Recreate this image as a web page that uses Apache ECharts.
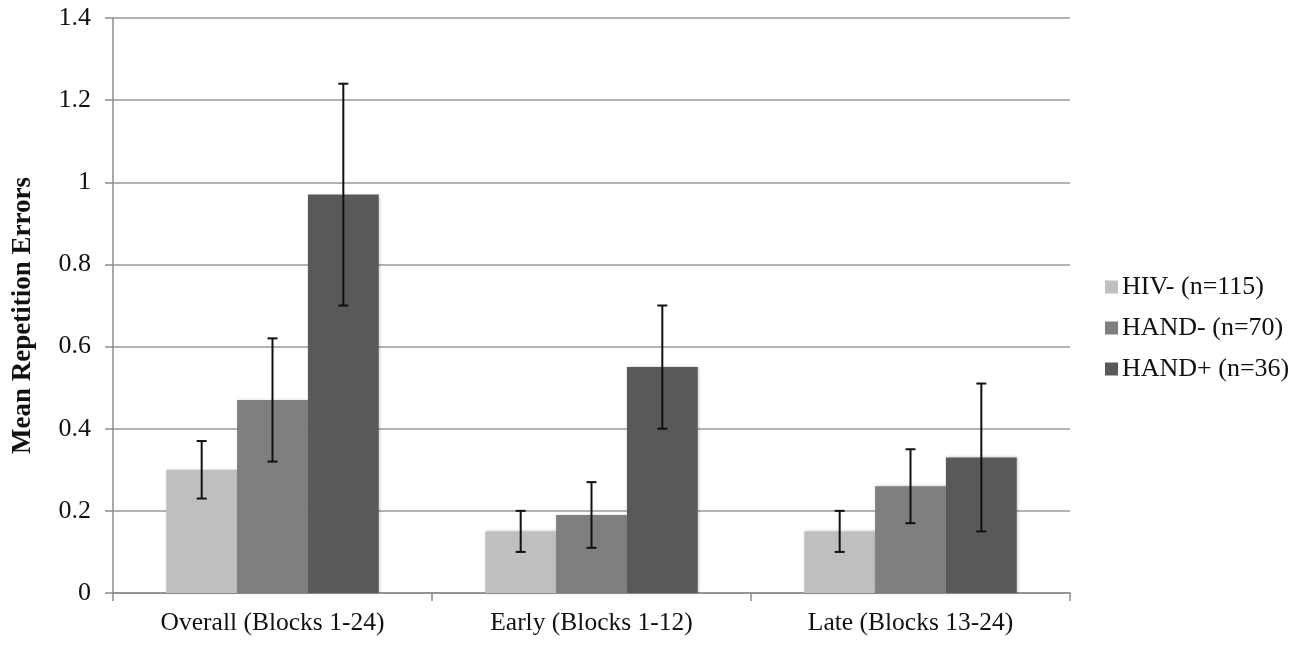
<!DOCTYPE html>
<html>
<head>
<meta charset="utf-8">
<script src="https://cdn.jsdelivr.net/npm/echarts@6/dist/echarts.min.js"></script>
<style>
html, body { margin: 0; padding: 0; background: #fff; }
#chart { width: 1309px; height: 645px; }
</style>
</head>
<body>
<div id="chart"></div>
<script>
// data
const categories = ['Overall (Blocks 1-24)', 'Early (Blocks 1-12)', 'Late (Blocks 13-24)'];
const groupNames = ['HIV- (n=115)', 'HAND- (n=70)', 'HAND+ (n=36)'];
const hivNeg = [0.30, 0.15, 0.15];
const handNeg = [0.47, 0.19, 0.26];
const handPos = [0.97, 0.55, 0.33];
// error bar ends [low, high] per category
const hivNegErr = [[0.23, 0.37], [0.10, 0.20], [0.10, 0.20]];
const handNegErr = [[0.32, 0.62], [0.11, 0.27], [0.17, 0.35]];
const handPosErr = [[0.70, 1.24], [0.40, 0.70], [0.15, 0.51]];
const yTicks = [0, 0.2, 0.4, 0.6, 0.8, 1, 1.2, 1.4];

const colors = ['#bfbfbf', '#7f7f7f', '#595959'];
const barFrac = 0.222;
const fontFam = '"Liberation Serif", "Times New Roman", serif';

var chart = echarts.init(document.getElementById('chart'));

// error bar drawn over its bar: offset -1, 0, +1 bar widths from category centre
const errSeries = (errs, pos) => ({
  type: 'custom',
  z: 10,
  silent: true,
  data: errs.map((e, i) => [i, e[0], e[1]]),
  renderItem: function (params, api) {
    var cat = api.value(0);
    var lo = api.coord([cat, api.value(1)]);
    var hi = api.coord([cat, api.value(2)]);
    var bw = api.size([1, 0])[0] * barFrac;
    var x = lo[0] + pos * bw;
    var cap = 5;
    var st = { stroke: '#111', lineWidth: 2 };
    return {
      type: 'group',
      children: [
        { type: 'line', shape: { x1: x, y1: lo[1], x2: x, y2: hi[1] }, style: st },
        { type: 'line', shape: { x1: x - cap, y1: lo[1], x2: x + cap, y2: lo[1] }, style: st },
        { type: 'line', shape: { x1: x - cap, y1: hi[1], x2: x + cap, y2: hi[1] }, style: st }
      ]
    };
  }
});

const barSeries = (name, vals, col) => ({
  name: name,
  type: 'bar',
  data: vals,
  barWidth: (barFrac * 100) + '%',
  barGap: '0%',
  itemStyle: {
    color: col,
    shadowColor: 'rgba(0,0,0,0.25)',
    shadowBlur: 3,
    shadowOffsetX: 1,
    shadowOffsetY: 0
  }
});

var option = {
  animation: false,
  textStyle: { fontFamily: fontFam },
  grid: { left: 113, right: 239, top: 18, bottom: 52 },
  legend: {
    orient: 'vertical',
    left: 1100,
    top: 269,
    itemWidth: 13,
    itemHeight: 13,
    itemGap: 15,
    icon: 'rect',
    data: groupNames,
    textStyle: { fontFamily: fontFam, fontSize: 26, color: '#111', padding: [0, 0, 0, -1] }
  },
  xAxis: {
    type: 'category',
    data: categories,
    axisLine: { lineStyle: { color: '#8c8c8c', width: 1.5 } },
    axisTick: { show: true, length: 8, lineStyle: { color: '#8c8c8c', width: 1.5 } },
    axisLabel: { fontFamily: fontFam, fontSize: 25.5, color: '#111', margin: 17 }
  },
  yAxis: {
    type: 'value',
    name: 'Mean Repetition Errors',
    nameLocation: 'middle',
    nameGap: 76,
    nameTextStyle: {
      fontFamily: fontFam, fontSize: 27, fontWeight: 'bold', color: '#111',
      padding: [0, 20, 0, 0]
    },
    min: yTicks[0],
    max: yTicks[yTicks.length - 1],
    interval: 0.2,
    axisLine: { show: true, lineStyle: { color: '#8c8c8c', width: 1.5 } },
    axisTick: { show: true, length: 8, lineStyle: { color: '#8c8c8c', width: 1.5 } },
    axisLabel: {
      fontFamily: fontFam, fontSize: 26, color: '#111', margin: 22,
      formatter: v => String(Math.round(v * 10) / 10)
    },
    splitLine: { lineStyle: { color: '#999', width: 1.5 } }
  },
  series: [
    barSeries(groupNames[0], hivNeg, colors[0]),
    barSeries(groupNames[1], handNeg, colors[1]),
    barSeries(groupNames[2], handPos, colors[2]),
    errSeries(hivNegErr, -1),
    errSeries(handNegErr, 0),
    errSeries(handPosErr, 1)
  ]
};

option && chart.setOption(option);
</script>
</body>
</html>
